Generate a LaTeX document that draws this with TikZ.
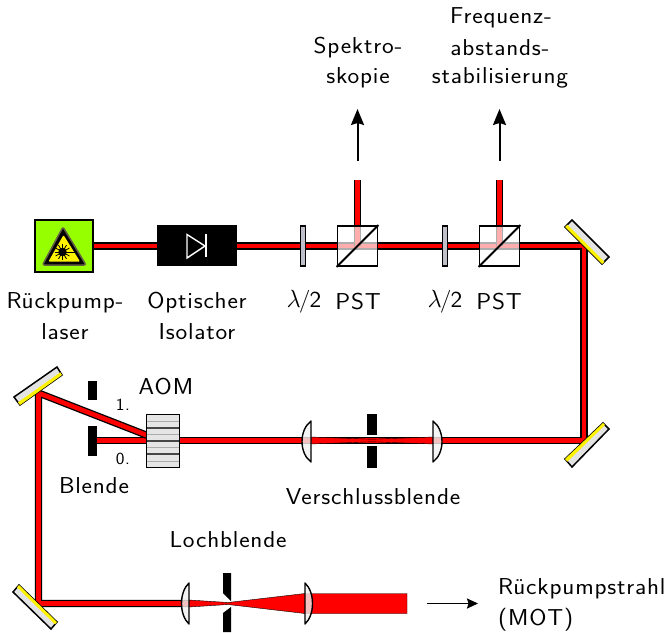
\documentclass[tikz,border=0pt]{standalone}
\usepackage{fontspec}
\setsansfont[FakeStretch=1.08,LetterSpace=3.5]{Latin Modern Sans}
\newfontfamily\widesans[FakeStretch=1.08,LetterSpace=5]{Latin Modern Sans}
\usetikzlibrary{calc,arrows.meta}
\definecolor{lasergreen}{RGB}{150,255,0}
\tikzset{
  beam/.style={draw=black,line width=1.3,double=red,double distance=4.6,line join=miter},
  focus/.style={fill=red,draw=black,line width=.4,line join=miter},
  lbl/.style={font=\sffamily\fontsize{23}{23}\selectfont,inner sep=0,anchor=center},
  small/.style={font=\sffamily\fontsize{17}{17}\selectfont,inner sep=0,anchor=center},
  cube/.style={draw=black,line width=1.8,fill=white,fill opacity=.68},
  plate/.style={draw=black,line width=1.3,fill=blue!10!gray!45},
  lens/.style={draw=black,line width=1.4,fill=gray!10,fill opacity=.8,line join=round},
  stop/.style={fill=black,draw=none},
  ray/.style={-{Stealth[length=16,width=13,inset=2]},line width=2,black},
  mbody/.style={draw=black,line width=1.5,fill=gray!22,line join=miter},
  mface/.style={fill=yellow,draw=none},
  stripeA/.style={draw=gray!55!black,line width=1.4},
  stripeB/.style={draw=gray!65,line width=1},
}
\newcommand{\mirrorshape}[4]{%
  \draw[mbody] #1 -- #2 -- #3 -- #4 -- cycle;
  \fill[mface] #1 -- #2 -- ($#2!.33!#3$) -- ($#1!.33!#4$) -- cycle;
}
\begin{document}
\begin{tikzpicture}[x=1pt,y=-1pt]
\useasboundingbox (0,0) rectangle (672,632);
\fill[white] (0,0) rectangle (672,632);
% beam corners
\coordinate (c1) at (584,246);
\coordinate (c2) at (584,440.5);
\coordinate (c3) at (38.5,393);
\coordinate (c4) at (38.5,603.5);
\coordinate (aomin) at (163,440.5);
\coordinate (aomup) at (150,436.5);
\coordinate (stop0) at (92,440.5);
\coordinate (lenschain) at (189,603.5);
\coordinate (t1) at (357.5,180);
\coordinate (t2) at (499.5,180);
\coordinate (s1) at (357.5,246);
\coordinate (s2) at (499.5,246);
\coordinate (laserc) at (63.5,246);
\draw[beam] (laserc) -- (c1) -- (c2) -- (aomin);
\draw[beam] (aomin) -- (stop0);
\draw[beam] (aomup) -- (c3) -- (c4) -- (lenschain);
\draw[beam] (t1) -- (s1);
\draw[beam] (t2) -- (s2);
% laser
\node[draw=black,line width=2,fill=lasergreen,minimum width=58,minimum height=52,inner sep=0] (laser) at (63.5,245.5) {};
\draw[fill=black,draw=black!70!yellow,line width=1.5,line join=round,rounded corners=2] (63,227) -- (42.5,265) -- (86,265) -- cycle;
\fill[yellow,rounded corners=1] (63.5,235) -- (48.5,261.5) -- (80,261.5) -- cycle;
\fill[black] (62.5,252) circle (4.2);
\foreach \a in {0,30,...,330}{\draw[black,line width=.8] (62.5,252) -- ++(\a:8);}
\draw[black,line width=1] (62.5,252) -- (75.5,252);
% isolator
\node[fill=black,minimum width=80,minimum height=41,inner sep=0] (iso) at (197,245.5) {};
\draw[white,line width=1.4,line join=miter] (187,234.5) -- (205,246) -- (187,258) -- cycle;
\draw[white,line width=1.6] (206,234) -- (206,257);
% plates and cubes
\node[plate,minimum width=5,minimum height=40,inner sep=0] (wp1) at (303,246) {};
\node[plate,minimum width=5,minimum height=40,inner sep=0] (wp2) at (445,246) {};
\node[cube,minimum width=40,minimum height=40,inner sep=0] (pst1) at (357.5,246) {};
\node[cube,minimum width=40,minimum height=40,inner sep=0] (pst2) at (499.5,246) {};
\draw[line width=1.8] (pst1.south west) -- (pst1.north east);
\draw[line width=1.8] (pst2.south west) -- (pst2.north east);
% arrows
\coordinate (a1s) at (357.5,161); \coordinate (a1e) at (357.5,109);
\coordinate (a2s) at (499.5,161); \coordinate (a2e) at (499.5,109);
\coordinate (a3s) at (427,603.5); \coordinate (a3e) at (478,603.5);
\draw[ray] (a1s) -- (a1e);
\draw[ray] (a2s) -- (a2e);
\draw[-{Stealth[length=11,width=10,inset=1.5]},line width=1.8] (a3s) -- (a3e);
% mirrors
\mirrorshape{(565,227)}{(602,264)}{(609,257)}{(572,220)}
\mirrorshape{(565,459)}{(603,423)}{(609,429)}{(572,467)}
\mirrorshape{(62,375)}{(20,405)}{(14,397)}{(57,367)}
\mirrorshape{(19,585)}{(57,622)}{(51,629)}{(13,592)}
% Blende + AOM
\fill[stop] (88,381) rectangle (97,400);
\fill[stop] (88,426) rectangle (97,456);
\node[draw=black,line width=1.6,fill=gray!20,minimum width=33,minimum height=53,inner sep=0] (aom) at (163,441) {};
\foreach \y in {428,441,454}{\draw[stripeA] (147,\y) -- (179,\y);}
\foreach \y in {421,434.5,447.5,461}{\draw[stripeB] (147,\y) -- (179,\y);}
% Verschluss telescope
\draw[focus] (311,437) -- (372,439.2) -- (433,437) -- (433,444) -- (372,441.8) -- (311,444) -- cycle;
\fill[stop] (367,414) rectangle (377,435);
\fill[stop] (367,446) rectangle (377,468);
\draw[lens] (311,421) .. controls (299,430) and (299,453) .. (311,462) -- cycle;
\draw[lens] (433,421) .. controls (445,430) and (445,453) .. (433,462) -- cycle;
% Loch telescope
\draw[focus] (189,600) -- (228,602.5) -- (305,593.5) -- (407,593.5) -- (407,613.5) -- (305,613.5) -- (228,604.5) -- (189,607) -- cycle;
\fill[stop] (223,573) -- (231,573) -- (231,601) -- (223,593) -- cycle;
\fill[stop] (231,607) -- (223,613) -- (223,632) -- (231,632) -- cycle;
\draw[lens] (189,583) .. controls (179,592) and (179,615) .. (189,624) -- cycle;
\draw[lens] (305,583) .. controls (315,592) and (315,615) .. (305,624) -- cycle;
% labels
\node[lbl] (l1) at (65,303) {Rückpump-};
\node[lbl] (l2) at (65,332) {laser};
\node[lbl] (l3) at (197,303) {Optischer};
\node[lbl] (l4) at (197,332) {Isolator};
\node[lbl] (l5) at (304,302) {$\lambda$\kern-2pt/\kern-1pt2};
\node[lbl] (l6) at (358,302) {PST};
\node[lbl] (l7) at (445,302) {$\lambda$\kern-2pt/\kern-1pt2};
\node[lbl] (l8) at (499,302) {PST};
\node[lbl] (l9) at (358,48) {Spektro-};
\node[lbl] (l10) at (358,78) {skopie};
\node[lbl] (l11) at (501,18) {Frequenz-};
\node[lbl] (l12) at (500,48) {abstands-};
\node[lbl] (l13) at (500,78) {stabilisierung};
\node[lbl] (l14) at (166,387) {\widesans AOM};
\node[small] (l15) at (123,405) {1.};
\node[small] (l16) at (123,459) {0.};
\node[lbl] (l17) at (94,486) {Blende};
\node[lbl] (l18) at (373,497) {Verschlussblende};
\node[lbl] (l19) at (228,540) {Lochblende};
\node[lbl,anchor=west] (l20) at (498,589) {Rückpumpstrahl};
\node[lbl,anchor=west] (l21) at (498,620) {(MOT)};
\end{tikzpicture}
\end{document}
